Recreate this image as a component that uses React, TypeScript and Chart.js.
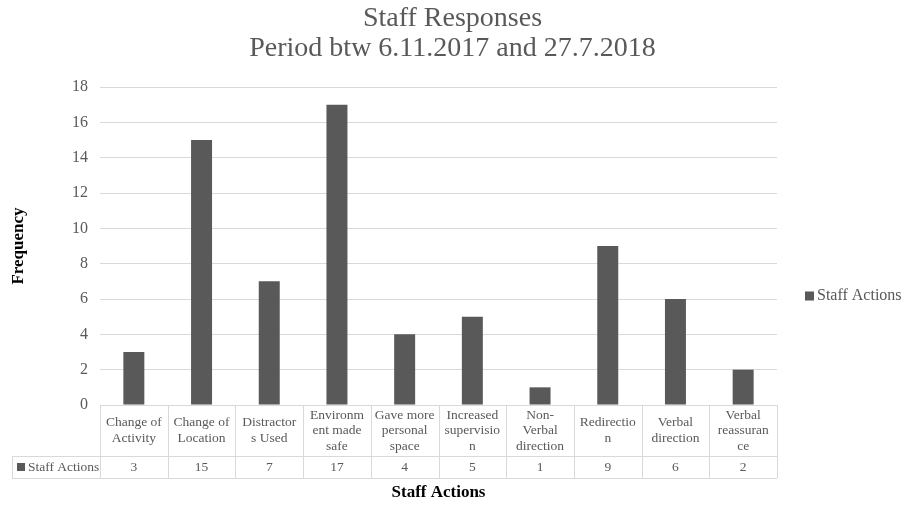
import React, { useEffect, useRef } from "react";
import { Chart, registerables } from "chart.js";

Chart.register(...registerables);

const categories = [
  "Change of Activity",
  "Change of Location",
  "Distractors Used",
  "Environment made safe",
  "Gave more personal space",
  "Increased supervision",
  "Non-Verbal direction",
  "Redirection",
  "Verbal direction",
  "Verbal reassurance",
];

const categoryLines = [
  ["Change of", "Activity"],
  ["Change of", "Location"],
  ["Distractor", "s Used"],
  ["Environm", "ent made", "safe"],
  ["Gave more", "personal", "space"],
  ["Increased", "supervisio", "n"],
  ["Non-", "Verbal", "direction"],
  ["Redirectio", "n"],
  ["Verbal", "direction"],
  ["Verbal", "reassuran", "ce"],
];

const seriesName = "Staff Actions";
const staffActions = [3, 15, 7, 17, 4, 5, 1, 9, 6, 2];

const titleLines = ["Staff Responses", "Period btw 6.11.2017 and 27.7.2018"];
const yAxisTitle = "Frequency";
const xAxisTitle = "Staff Actions";

const FONT = "'Liberation Serif', 'DejaVu Serif', serif";
const TEXT = "#595959";
const BAR = "#595959";
const GRID = "#d9d9d9";

const tablePlugin = {
  id: "dataTable",
  afterDraw(chart: any) {
    const { ctx, chartArea, scales, width } = chart;
    const x = scales.x;
    const n = categories.length;
    const top = chartArea.bottom;
    const catBottom = top + 51;
    const valBottom = catBottom + 22;
    const tableLeft = 12;
    const px = (v: number) => Math.round(v) + 0.5;

    const bounds: number[] = [];
    for (let i = 0; i <= n; i++) {
      if (i === 0) bounds.push(chartArea.left);
      else if (i === n) bounds.push(chartArea.right);
      else bounds.push((x.getPixelForValue(i - 1) + x.getPixelForValue(i)) / 2);
    }

    ctx.save();
    // chart title, centred on the whole canvas
    ctx.fillStyle = TEXT;
    ctx.textAlign = "center";
    ctx.textBaseline = "middle";
    ctx.font = `28px ${FONT}`;
    titleLines.forEach((t, i) => ctx.fillText(t, width / 2, 19 + i * 30));

    ctx.strokeStyle = GRID;
    ctx.lineWidth = 1;
    ctx.beginPath();
    ctx.moveTo(chartArea.left, px(top));
    ctx.lineTo(chartArea.right, px(top));
    ctx.moveTo(tableLeft, px(catBottom));
    ctx.lineTo(chartArea.right, px(catBottom));
    ctx.moveTo(tableLeft, px(valBottom));
    ctx.lineTo(chartArea.right, px(valBottom));
    for (const b of bounds) {
      ctx.moveTo(px(b), top);
      ctx.lineTo(px(b), valBottom);
    }
    ctx.moveTo(px(tableLeft), catBottom);
    ctx.lineTo(px(tableLeft), valBottom);
    ctx.stroke();

    ctx.fillStyle = TEXT;
    ctx.font = `13.5px ${FONT}`;
    const lh = 15.5;
    const catMid = (top + catBottom) / 2;
    const valMid = (catBottom + valBottom) / 2;
    for (let i = 0; i < n; i++) {
      const cx = x.getPixelForValue(i);
      const lines = categoryLines[i];
      const start = catMid - ((lines.length - 1) * lh) / 2;
      lines.forEach((l, j) => ctx.fillText(l, cx, start + j * lh));
      ctx.fillText(String(staffActions[i]), cx, valMid);
    }
    ctx.fillStyle = BAR;
    ctx.fillRect(17, valMid - 4, 8, 8);
    ctx.fillStyle = TEXT;
    ctx.textAlign = "left";
    ctx.fillText(seriesName, 28, valMid);

    ctx.fillStyle = "#000";
    ctx.textAlign = "center";
    ctx.font = `bold 17px ${FONT}`;
    ctx.fillText(xAxisTitle, (chartArea.left + chartArea.right) / 2, valBottom + 15);

    const ly = (chartArea.top + chartArea.bottom) / 2 + 50;
    ctx.fillStyle = BAR;
    ctx.fillRect(805, ly - 4.5, 9, 9);
    ctx.fillStyle = TEXT;
    ctx.textAlign = "left";
    ctx.font = `16px ${FONT}`;
    ctx.fillText(seriesName, 817, ly);
    ctx.restore();
  },
};

export default function App() {
  const ref = useRef<HTMLCanvasElement | null>(null);

  useEffect(() => {
    document.body.style.margin = "0";
    if (!ref.current) return;
    const chart = new Chart(ref.current, {
      type: "bar",
      data: {
        labels: categories,
        datasets: [
          {
            label: seriesName,
            data: staffActions,
            backgroundColor: BAR,
            barPercentage: 0.31,
            categoryPercentage: 1,
          },
        ],
      },
      options: {
        animation: false,
        responsive: false,
        layout: { padding: { left: 0, right: 128, bottom: 100, top: 87 } },
        plugins: {
          legend: { display: false },
          tooltip: { enabled: false },
          title: { display: false },
        },
        scales: {
          x: {
            display: false,
          },
          y: {
            min: 0,
            max: 18,
            ticks: {
              stepSize: 2,
              color: TEXT,
              padding: 12,
              font: { family: FONT, size: 16 },
            },
            grid: { color: GRID, drawTicks: false },
            border: { display: false },
            title: {
              display: true,
              text: yAxisTitle,
              color: "#000",
              font: { family: FONT, size: 17, weight: "bold" },
              padding: { top: 8, bottom: 0 },
            },
            afterFit: (scale: any) => {
              scale.width = 100;
            },
          },
        },
      },
      plugins: [tablePlugin],
    });
    return () => chart.destroy();
  }, []);

  return (
    <div style={{ width: 905, height: 505, background: "#fff" }}>
      <canvas ref={ref} width={905} height={505} />
    </div>
  );
}
